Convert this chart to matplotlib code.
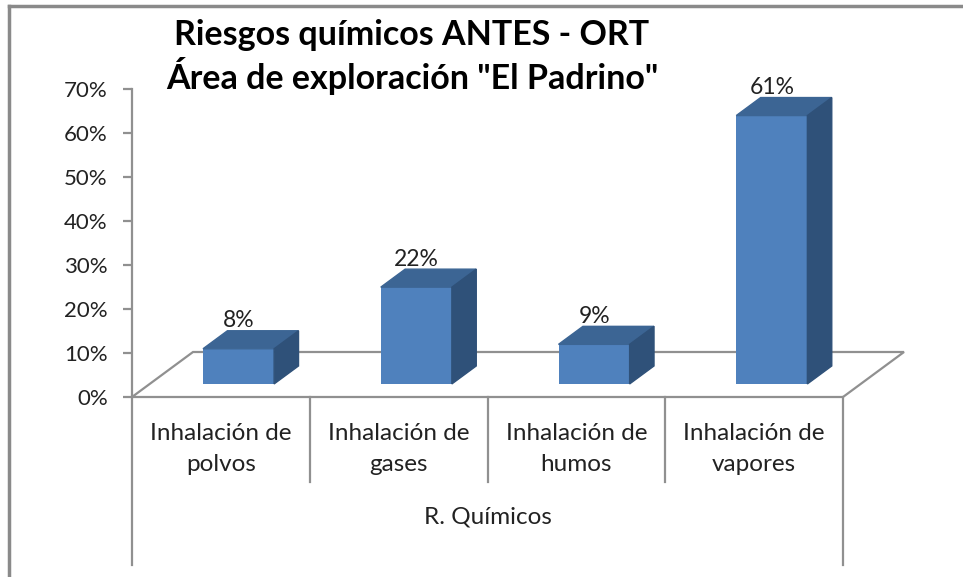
import matplotlib.pyplot as plt
from matplotlib.patches import Polygon
from matplotlib.lines import Line2D

# data
categories = ["Inhalación de\npolvos", "Inhalación de\ngases",
              "Inhalación de\nhumos", "Inhalación de\nvapores"]
values = [8, 22, 9, 61]
group_label = "R. Químicos"
title = 'Riesgos químicos ANTES - ORT\nÁrea de exploración "El Padrino"'
yticks = [0, 10, 20, 30, 40, 50, 60, 70]

plt.rcParams['font.family'] = ['Lato', 'DejaVu Sans']

W, H = 963, 577
fig = plt.figure(figsize=(W / 100, H / 100), dpi=100)
ax = fig.add_axes([132 / W, (H - 397) / H, 711 / W, 308 / H])
ax.set_xlim(-0.5, len(values) - 0.5)
ax.set_ylim(0, 70)

# 3d look: floor depth in data units
px_x = 711 / len(values)   # pixels per category
px_y = 308 / 70            # pixels per percent
depth_x, depth_y = 61 / px_x, 45 / px_y
f0, fb = 0.29, 0.40        # bar front position / bar depth as fraction of floor
bar_w = 0.40

grey = "#909090"
txt = "#222222"
front_c, top_c, side_c = "#4F81BD", "#3C6594", "#2F5179"

# floor
x0, x1 = -0.5, len(values) - 0.5
floor = Polygon([(x0, 0), (x1, 0), (x1 + depth_x, depth_y), (x0 + depth_x, depth_y)],
                closed=True, fill=False, edgecolor=grey, lw=1.6, clip_on=False, zorder=1)
ax.add_patch(floor)

base = f0 * depth_y
off = f0 * depth_x
bdx, bdy = fb * depth_x, fb * depth_y
xs = [i + off for i in range(len(values))]
ax.bar(xs, values, width=bar_w, bottom=base, color=front_c, zorder=3, clip_on=False)
for xc, v in zip(xs, values):
    l, r, t = xc - bar_w / 2, xc + bar_w / 2, base + v
    ax.add_patch(Polygon([(l, t), (r, t), (r + bdx, t + bdy), (l + bdx, t + bdy)],
                         color=top_c, zorder=3, clip_on=False))
    ax.add_patch(Polygon([(r, base), (r, t), (r + bdx, t + bdy), (r + bdx, base + bdy)],
                         color=side_c, zorder=3, clip_on=False))
    ax.text(xc, t + 28 / px_y, f"{v}%", ha="center", va="center",
            fontsize=16.5, color=txt, zorder=4, clip_on=False)

# axes styling
for s in ["top", "right", "bottom"]:
    ax.spines[s].set_visible(False)
ax.spines["left"].set_color(grey)
ax.spines["left"].set_linewidth(1.6)
ax.set_yticks(yticks)
ax.set_yticklabels([f"{t}%" for t in yticks], fontsize=16, color=txt)
ax.tick_params(axis="y", direction="out", length=6.5, width=1.6, color=grey, pad=11)
ax.set_xticks([])
ax.patch.set_visible(False)

# category axis lines and labels
low_div = -(482 - 397) / px_y
low_out = -(565 - 397) / px_y
for k in range(len(values) + 1):
    xk = k - 0.5
    yb = low_out if k in (0, len(values)) else low_div
    ax.add_line(Line2D([xk, xk], [0, yb], color=grey, lw=1.6, clip_on=False))
for i, c in enumerate(categories):
    ax.text(i, -(449 - 397) / px_y, c, ha="center", va="center", fontsize=17.5,
            color=txt, linespacing=1.55, clip_on=False)
ax.text((len(values) - 1) / 2, -(517 - 397) / px_y, group_label, ha="center",
        va="center", fontsize=17.5, color=txt, clip_on=False)

# title
fig.text(412 / W, 1 - 57 / H, title, ha="center", va="center", fontsize=24.5,
         fontweight="bold", linespacing=1.18)

# chart border (top and left visible)
fig.add_artist(Line2D([9 / W, 9 / W], [0, 1 - 6 / H], color="#8a8a8a", lw=2.5))
fig.add_artist(Line2D([9 / W, 1], [1 - 6 / H, 1 - 6 / H], color="#8a8a8a", lw=2.5))

fig.savefig("out.png", dpi=100)
